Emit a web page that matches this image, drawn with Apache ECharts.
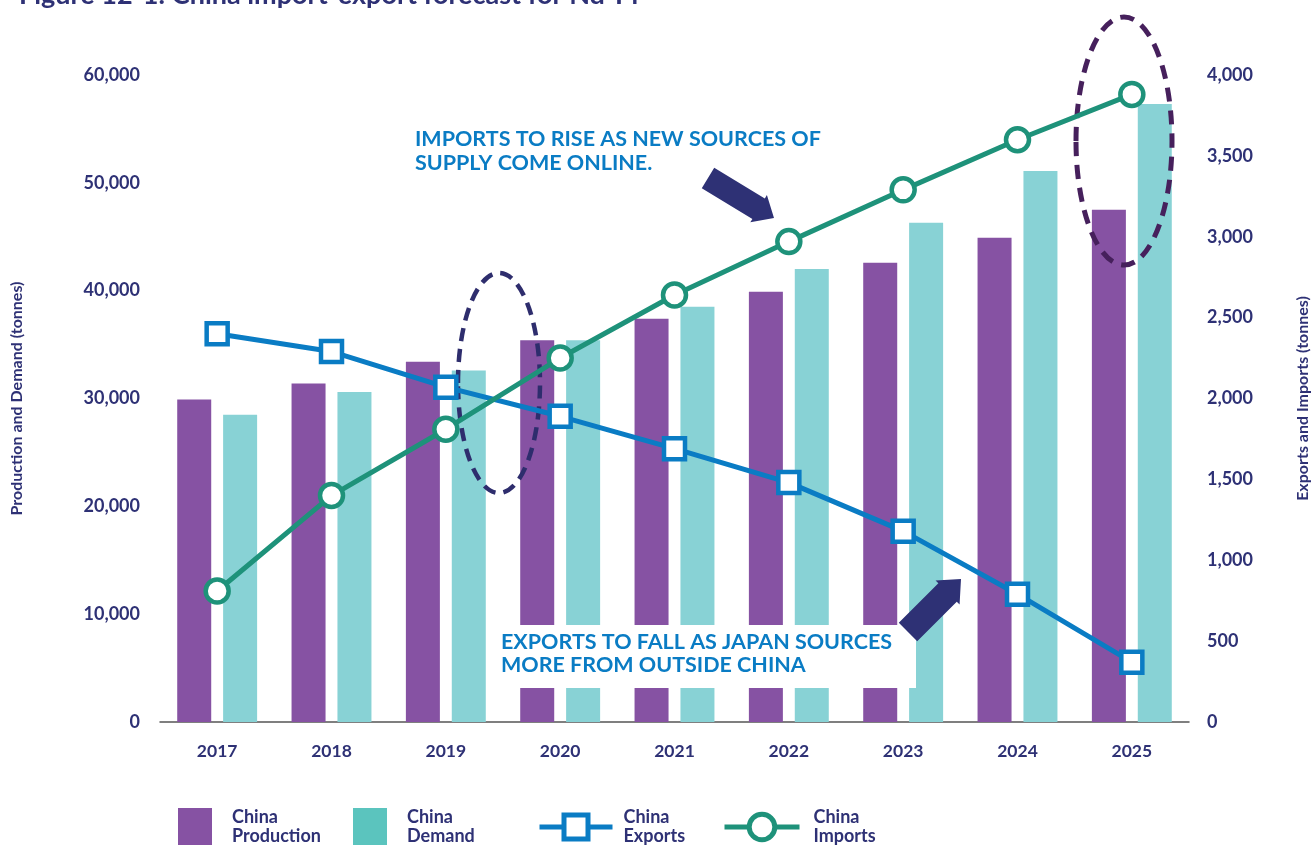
<!DOCTYPE html>
<html>
<head>
<meta charset="utf-8">
<title>China import-export forecast for Nd-Pr</title>
<script src="https://cdn.jsdelivr.net/npm/echarts@6/dist/echarts.min.js"></script>
<style>
  html, body { margin: 0; padding: 0; background: #ffffff; }
  #chart { width: 1312px; height: 845px; }
</style>
</head>
<body>
<div id="chart"></div>
<script>
// Forecast years
const years = ['2017', '2018', '2019', '2020', '2021', '2022', '2023', '2024', '2025'];

// Production and demand (tonnes, left axis)
const chinaProduction = [29900, 31400, 33400, 35400, 37400, 39900, 42600, 44900, 47500];
const chinaDemand = [28500, 30600, 32600, 35400, 38500, 42000, 46300, 51100, 57300];

// Exports and imports (tonnes, right axis)
const chinaExports = [2400, 2290, 2070, 1890, 1690, 1480, 1180, 790, 370];
const chinaImports = [810, 1400, 1810, 2250, 2640, 2970, 3290, 3600, 3880];

// Axis ranges
const leftMax = 60000, leftStep = 10000;
const rightMax = 4000, rightStep = 500;

const NAVY = '#2e3175';
const FONT = 'Lato, "Noto Sans", sans-serif';
const PURPLE = '#8652a3';
const TEAL = '#88d2d5';
const BLUE = '#0a7cc4';
const GREEN = '#1e927a';

const fmt = v => v.toLocaleString('en-US');

// Block arrow polygon from a tail point to a tip point
function arrowPoints(tail, tip, shaftHalf, headHalf, headLen) {
  const dx = tip[0] - tail[0], dy = tip[1] - tail[1];
  const len = Math.hypot(dx, dy);
  const ux = dx / len, uy = dy / len;
  const nx = -uy, ny = ux;
  const bx = tip[0] - ux * headLen, by = tip[1] - uy * headLen;
  return [
    [tail[0] + nx * shaftHalf, tail[1] + ny * shaftHalf],
    [bx + nx * shaftHalf, by + ny * shaftHalf],
    [bx + nx * headHalf, by + ny * headHalf],
    [tip[0], tip[1]],
    [bx - nx * headHalf, by - ny * headHalf],
    [bx - nx * shaftHalf, by - ny * shaftHalf],
    [tail[0] - nx * shaftHalf, tail[1] - ny * shaftHalf]
  ];
}

// One legend block per series, each with two-line text
function legendItem(left, textGap, extra) {
  return Object.assign({
    top: 808,
    left: left,
    padding: 0,
    orient: 'horizontal',
    selectedMode: false,
    itemGap: 0,
    formatter: n => n.replace(' ', '\n'),
    textStyle: {
      color: NAVY, fontFamily: FONT, fontWeight: 'bold', fontSize: 18, lineHeight: 19,
      padding: [0, 0, 0, textGap - 5]
    }
  }, extra);
}

const chart = echarts.init(document.getElementById('chart'), null, { renderer: 'canvas' });

chart.setOption({
  backgroundColor: '#ffffff',
  animation: false,
  title: {
    text: 'Figure 12-1: China import-export forecast for Nd-Pr',
    left: 14,
    top: -23,
    textStyle: { color: NAVY, fontFamily: FONT, fontWeight: 'bold', fontSize: 27 }
  },
  grid: { left: 160, width: 1029, top: 75, height: 647, outerBoundsMode: 'none', containLabel: false },
  legend: [
    legendItem(178, 20, {
      icon: 'rect', itemWidth: 34, itemHeight: 38,
      data: ['China Production']
    }),
    legendItem(353, 20, {
      icon: 'rect', itemWidth: 34, itemHeight: 38,
      data: [{ name: 'China Demand', itemStyle: { color: '#5bc4be' } }]
    }),
    legendItem(537, 11, {
      itemWidth: 73, itemHeight: 30,
      lineStyle: { width: 5 },
      itemStyle: { borderWidth: 5 },
      data: ['China Exports']
    }),
    legendItem(722, 14, {
      itemWidth: 75, itemHeight: 32,
      lineStyle: { width: 5 },
      itemStyle: { borderWidth: 5 },
      data: ['China Imports']
    })
  ],
  xAxis: {
    type: 'category',
    data: years,
    axisLine: { lineStyle: { color: '#555555', width: 1.5 } },
    axisTick: { show: false },
    axisLabel: { color: NAVY, fontFamily: FONT, fontWeight: 'bold', fontSize: 17.5, margin: 20 }
  },
  yAxis: [
    {
      type: 'value', min: 0, max: leftMax, interval: leftStep,
      name: 'Production and Demand (tonnes)',
      nameLocation: 'middle', nameRotate: 90, nameGap: 135,
      nameTextStyle: { color: NAVY, fontFamily: FONT, fontWeight: 'bold', fontSize: 16 },
      axisLine: { show: false }, axisTick: { show: false }, splitLine: { show: false },
      axisLabel: { color: NAVY, fontFamily: FONT, fontWeight: 'bold', fontSize: 18, margin: 20, formatter: fmt }
    },
    {
      type: 'value', min: 0, max: rightMax, interval: rightStep,
      name: 'Exports and Imports (tonnes)',
      nameLocation: 'middle', nameRotate: 90, nameGap: 106,
      nameTextStyle: { color: NAVY, fontFamily: FONT, fontWeight: 'bold', fontSize: 16 },
      axisLine: { show: false }, axisTick: { show: false }, splitLine: { show: false },
      axisLabel: { color: NAVY, fontFamily: FONT, fontWeight: 'bold', fontSize: 18, margin: 18, formatter: fmt }
    }
  ],
  series: [
    {
      name: 'China Production', type: 'bar', yAxisIndex: 0,
      data: chinaProduction, barWidth: 34, barGap: '35%',
      itemStyle: { color: PURPLE }, z: 2
    },
    {
      name: 'China Demand', type: 'bar', yAxisIndex: 0,
      data: chinaDemand, barWidth: 34, barGap: '35%',
      itemStyle: { color: TEAL }, z: 2
    },
    {
      name: 'China Exports', type: 'line', yAxisIndex: 1,
      data: chinaExports,
      symbol: 'rect', symbolSize: 21,
      lineStyle: { color: BLUE, width: 5 },
      itemStyle: { color: '#ffffff', borderColor: BLUE, borderWidth: 4.5 },
      z: 6
    },
    {
      name: 'China Imports', type: 'line', yAxisIndex: 1,
      data: chinaImports,
      symbol: 'circle', symbolSize: 23,
      lineStyle: { color: GREEN, width: 5 },
      itemStyle: { color: '#ffffff', borderColor: GREEN, borderWidth: 4.5 },
      z: 7
    }
  ],
  graphic: [
    // dashed ring around the 2019-2020 crossover
    {
      type: 'ellipse', z: 5,
      shape: { cx: 499, cy: 383, rx: 41, ry: 110 },
      style: { fill: null, stroke: '#2e2d6d', lineWidth: 4.5, lineDash: [13, 8] }
    },
    // dashed ring around 2025
    {
      type: 'ellipse', z: 5,
      shape: { cx: 1124, cy: 141, rx: 48, ry: 124 },
      style: { fill: null, stroke: '#46205c', lineWidth: 5, lineDash: [14, 9] }
    },
    // white panel behind the exports note
    {
      type: 'rect', z: 8,
      shape: { x: 487, y: 625, width: 429, height: 63 },
      style: { fill: '#ffffff' }
    },
    {
      type: 'text', z: 9, left: 415, top: 127,
      style: {
        text: 'IMPORTS TO RISE AS NEW SOURCES OF\nSUPPLY COME ONLINE.',
        fill: BLUE, font: 'bold 21.5px ' + FONT, lineHeight: 24
      }
    },
    {
      type: 'text', z: 9, left: 501, top: 631,
      style: {
        text: 'EXPORTS TO FALL AS JAPAN SOURCES\nMORE FROM OUTSIDE CHINA',
        fill: BLUE, font: 'bold 21.5px ' + FONT, lineHeight: 23
      }
    },
    {
      type: 'polygon', z: 9,
      shape: { points: arrowPoints([708, 178], [774, 218], 12, 16, 18) },
      style: { fill: NAVY }
    },
    {
      type: 'polygon', z: 9,
      shape: { points: arrowPoints([908, 632], [961, 579], 13, 17, 19) },
      style: { fill: NAVY }
    }
  ]
});
</script>
</body>
</html>
